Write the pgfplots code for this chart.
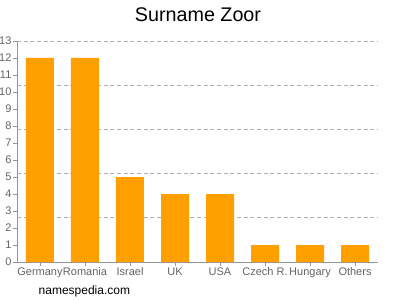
\documentclass[border=0pt]{standalone}
\usepackage{pgfplots}
\pgfplotsset{compat=1.18}
\usepackage{fontspec}
\setmainfont{Liberation Sans}
\definecolor{barorange}{RGB}{255,160,0}
\definecolor{axgray}{RGB}{150,150,150}
\definecolor{gridgray}{RGB}{175,175,175}
\definecolor{labgray}{RGB}{100,100,100}
\begin{document}
\begin{tikzpicture}[x=1pt,y=1pt]
\path[use as bounding box] (0,0) rectangle (300,225);
\begin{axis}[
  at={(12.75pt,28.5pt)}, anchor=south west,
  scale only axis, width=270.75pt, height=165.75pt,
  xmin=-0.511, xmax=7.511, ymin=0, ymax=13,
  xtick={0,...,7},
  xticklabels={Germany,Romania,Israel,UK,USA,Czech R.,Hungary,Others},
  ytick={0,...,13},
  extra y ticks={2.6,5.2,7.8,10.4,13},
  extra y tick labels={},
  extra y tick style={ymajorgrids=true, major tick length=0pt,
    grid style={dash pattern=on 3pt off 2pt, gridgray, line width=0.5pt}},
  axis x line*=bottom, axis y line*=left,
  axis line style={axgray, line width=0.5pt},
  tick style={axgray, line width=0.5pt},
  major tick length=3pt,
  tick align=outside,
  ticklabel style={font=\fontsize{8.25}{9}\selectfont, text=labgray},
  xticklabel style={inner sep=1pt},
  yticklabel style={inner sep=1pt},
  /pgf/number format/assume math mode=true,
  ybar, bar width=21pt,
]
\addplot[fill=barorange, draw=none] coordinates {(0,12) (1,12) (2,5) (3,4) (4,4) (5,1) (6,1) (7,1)};
\end{axis}
\node[font=\fontsize{14.8}{16}\selectfont] at (148.5,214) {Surname Zoor};
\node[font=\fontsize{9}{10}\selectfont, anchor=west] at (25.5,6.75) {namespedia.com};
\end{tikzpicture}
\end{document}
